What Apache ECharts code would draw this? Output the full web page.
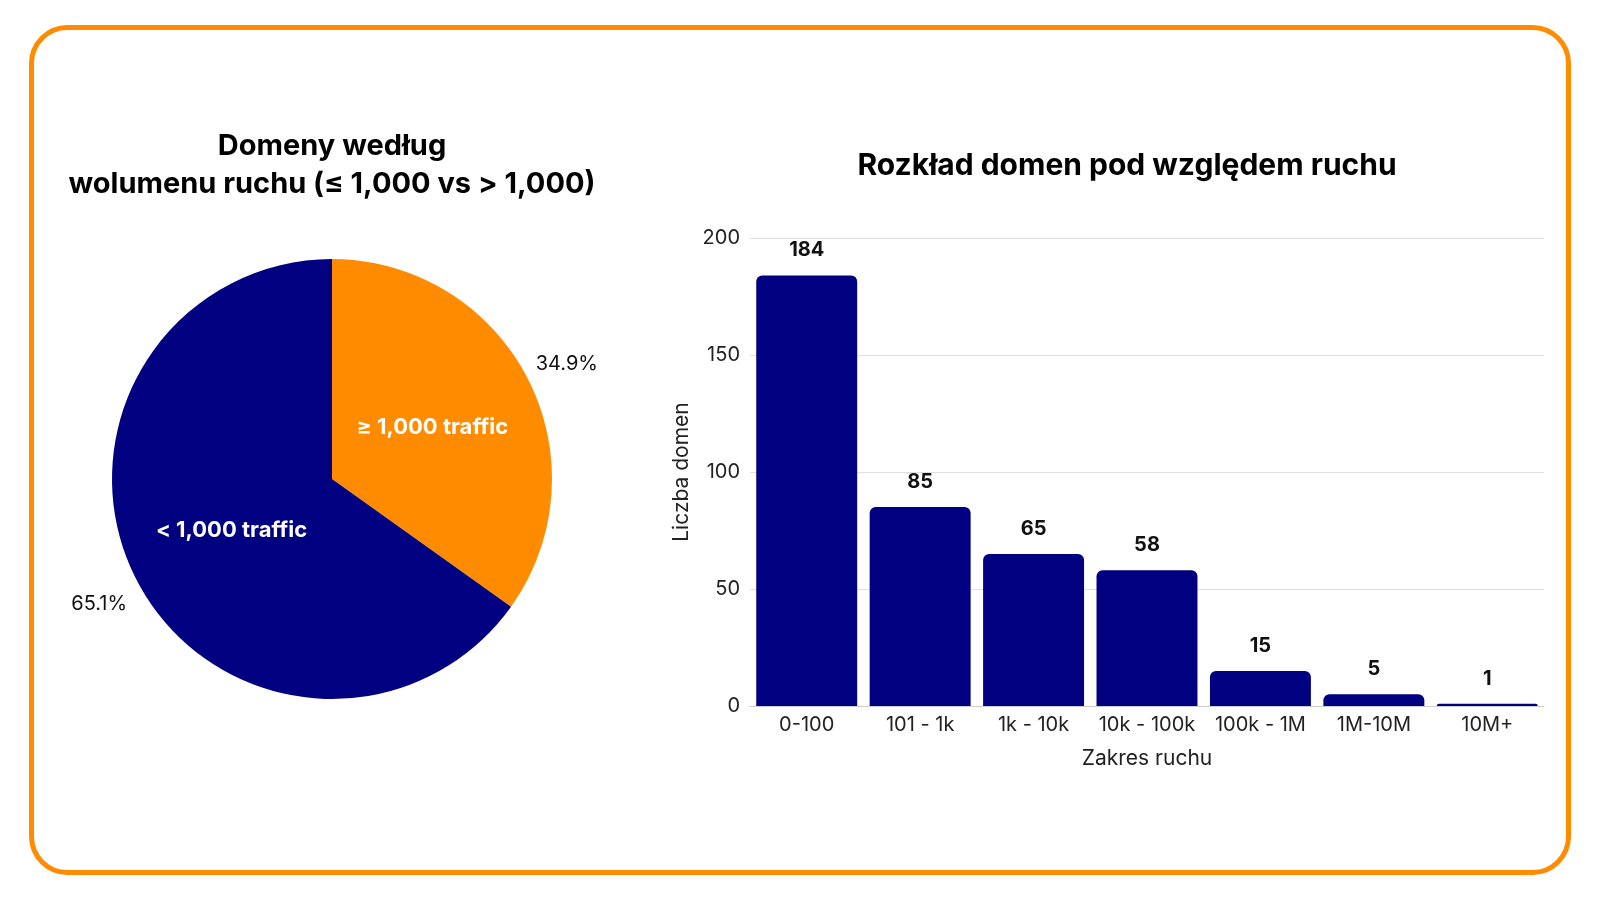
<!DOCTYPE html>
<html>
<head>
<meta charset="utf-8">
<script src="https://cdn.jsdelivr.net/npm/echarts@6/dist/echarts.min.js"></script>
<style>
html,body{margin:0;padding:0;background:#fff;}
#main{width:1600px;height:900px;}
</style>
</head>
<body>
<div id="main"></div>
<script>
// ---- data ----
const pieTitle = 'Domeny według\nwolumenu ruchu (≤ 1,000 vs > 1,000)';
const barTitle = 'Rozkład domen pod względem ruchu';
const pieNames = ['≥ 1,000 traffic', '< 1,000 traffic'];
const pieValues = [144, 269];
const pieColors = ['#FF8C00', '#000080'];
const categories = ['0-100', '101 - 1k', '1k - 10k', '10k - 100k', '100k - 1M', '1M-10M', '10M+'];
const counts = [184, 85, 65, 58, 15, 5, 1];
const yAxisName = 'Liczba domen';
const xAxisName = 'Zakres ruchu';

const FONT = 'Inter, "Noto Sans", sans-serif';
const chart = echarts.init(document.getElementById('main'));
const pieData = pieNames.map((n, i) => ({ name: n, value: pieValues[i], itemStyle: { color: pieColors[i] } }));

chart.setOption({
  animation: false,
  textStyle: { fontFamily: FONT },
  graphic: [{
    type: 'rect',
    shape: { x: 31.5, y: 27.5, width: 1537, height: 845, r: 36 },
    style: { fill: 'none', stroke: '#FF8C00', lineWidth: 5 },
    silent: true
  }],
  title: [
    { text: pieTitle, left: 327, top: 122, textAlign: 'center',
      textStyle: { fontFamily: FONT, fontSize: 29, fontWeight: 'bold', color: '#000', lineHeight: 38 } },
    { text: barTitle, left: 1122, top: 146, textAlign: 'center',
      textStyle: { fontFamily: FONT, fontSize: 30, fontWeight: 'bold', color: '#000' } }
  ],
  grid: { left: 750, right: 56, top: 238, bottom: 194 },
  xAxis: {
    type: 'category', data: categories,
    axisLine: { lineStyle: { color: '#cccccc' } },
    axisTick: { show: false },
    axisLabel: { interval: 0, fontSize: 20, color: '#222', margin: 9, fontFamily: FONT },
    name: xAxisName, nameLocation: 'middle', nameGap: 42,
    nameTextStyle: { fontSize: 21, color: '#222', fontFamily: FONT }
  },
  yAxis: {
    type: 'value', min: 0, max: 200, interval: 50,
    axisLine: { show: false }, axisTick: { show: false },
    splitLine: { lineStyle: { color: '#e0e0e0' } },
    axisLabel: { fontSize: 20, color: '#222', margin: 10, fontFamily: FONT },
    name: yAxisName, nameLocation: 'middle', nameGap: 58,
    nameTextStyle: { fontSize: 21, color: '#222', fontFamily: FONT }
  },
  series: [
    {
      type: 'pie', center: [332, 479], radius: 220, startAngle: 90, clockwise: true,
      data: pieData, silent: true,
      label: { position: 'inside', formatter: '{b}', color: '#fff', fontSize: 22, fontWeight: 'bold', fontFamily: FONT },
      labelLine: { show: false }
    },
    {
      type: 'pie', center: [332, 479], radius: [220, 300], startAngle: 90, clockwise: true,
      data: pieNames.map((n, i) => ({ name: n, value: pieValues[i] })),
      silent: true, z: 1,
      itemStyle: { color: 'rgba(0,0,0,0)' },
      label: { position: 'inside', offset: [1, 5], formatter: p => p.percent.toFixed(1) + '%', color: '#111', fontSize: 20, fontFamily: FONT },
      labelLine: { show: false }
    },
    {
      type: 'bar', data: counts, barCategoryGap: '11%',
      itemStyle: { color: '#000080', borderRadius: [6, 6, 0, 0] },
      label: { show: true, position: 'top', distance: 15, fontSize: 20, fontWeight: 'bold', color: '#111', fontFamily: FONT }
    }
  ]
});
</script>
</body>
</html>
